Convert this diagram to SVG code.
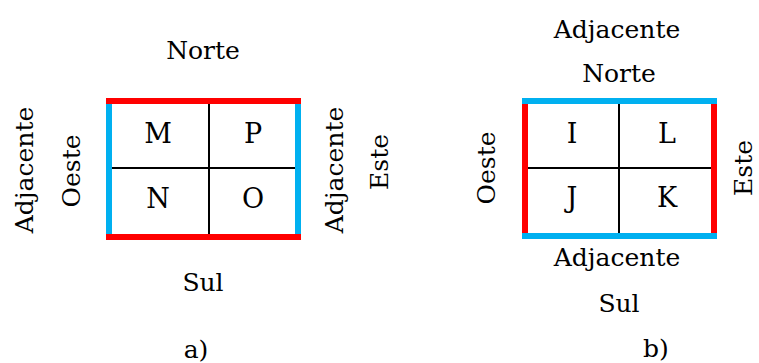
<svg xmlns="http://www.w3.org/2000/svg" width="759" height="363" viewBox="0 0 759 363">
<style>
.div{stroke:#000;stroke-width:2;fill:none}
.red{fill:#ff0000}
.blue{fill:#00b0f0}
.t{font-family:"DejaVu Serif","Liberation Serif",serif;font-size:25px;fill:#000;text-anchor:middle}
.c{font-size:27px}
</style>
<rect width="759" height="363" fill="#fff"/>
<g id="diagram-a">
  <g id="a-grid">
    <line class="div" x1="209" y1="104" x2="209" y2="234"/>
    <line class="div" x1="111" y1="168" x2="295" y2="168"/>
  </g>
  <g id="a-borders">
    <rect class="red" x="106" y="98" width="195" height="6"/>
    <rect class="red" x="106" y="234" width="195" height="6"/>
    <rect class="blue" x="106" y="104" width="6" height="130"/>
    <rect class="blue" x="295" y="104" width="6" height="130"/>
  </g>
  <g id="a-cells">
    <text class="t c" x="158" y="143">M</text>
    <text class="t c" x="253" y="143">P</text>
    <text class="t c" x="158" y="208">N</text>
    <text class="t c" x="253" y="208">O</text>
  </g>
  <text class="t" x="203" y="59">Norte</text>
  <text class="t" x="203" y="291">Sul</text>
  <text class="t" transform="translate(33,170) rotate(-90)">Adjacente</text>
  <text class="t" transform="translate(80,171) rotate(-90)">Oeste</text>
  <text class="t" transform="translate(343,170) rotate(-90)">Adjacente</text>
  <text class="t" transform="translate(388,162) rotate(-90)">Este</text>
  <text class="t" x="196" y="358">a)</text>
</g>
<g id="diagram-b">
  <g id="b-grid">
    <line class="div" x1="619" y1="104" x2="619" y2="233"/>
    <line class="div" x1="528" y1="168" x2="711" y2="168"/>
  </g>
  <g id="b-borders">
    <rect class="blue" x="522" y="98" width="195" height="6"/>
    <rect class="blue" x="522" y="233" width="195" height="6"/>
    <rect class="red" x="522" y="104" width="6" height="129"/>
    <rect class="red" x="711" y="104" width="6" height="129"/>
  </g>
  <g id="b-cells">
    <text class="t c" x="572" y="143">I</text>
    <text class="t c" x="667" y="143">L</text>
    <text class="t c" x="572" y="207">J</text>
    <text class="t c" x="667" y="207">K</text>
  </g>
  <text class="t" x="617" y="38">Adjacente</text>
  <text class="t" x="619" y="82">Norte</text>
  <text class="t" x="617" y="266">Adjacente</text>
  <text class="t" x="619" y="312">Sul</text>
  <text class="t" transform="translate(495,168) rotate(-90)">Oeste</text>
  <text class="t" transform="translate(752,168) rotate(-90)">Este</text>
  <text class="t" x="656" y="357">b)</text>
</g>
</svg>
